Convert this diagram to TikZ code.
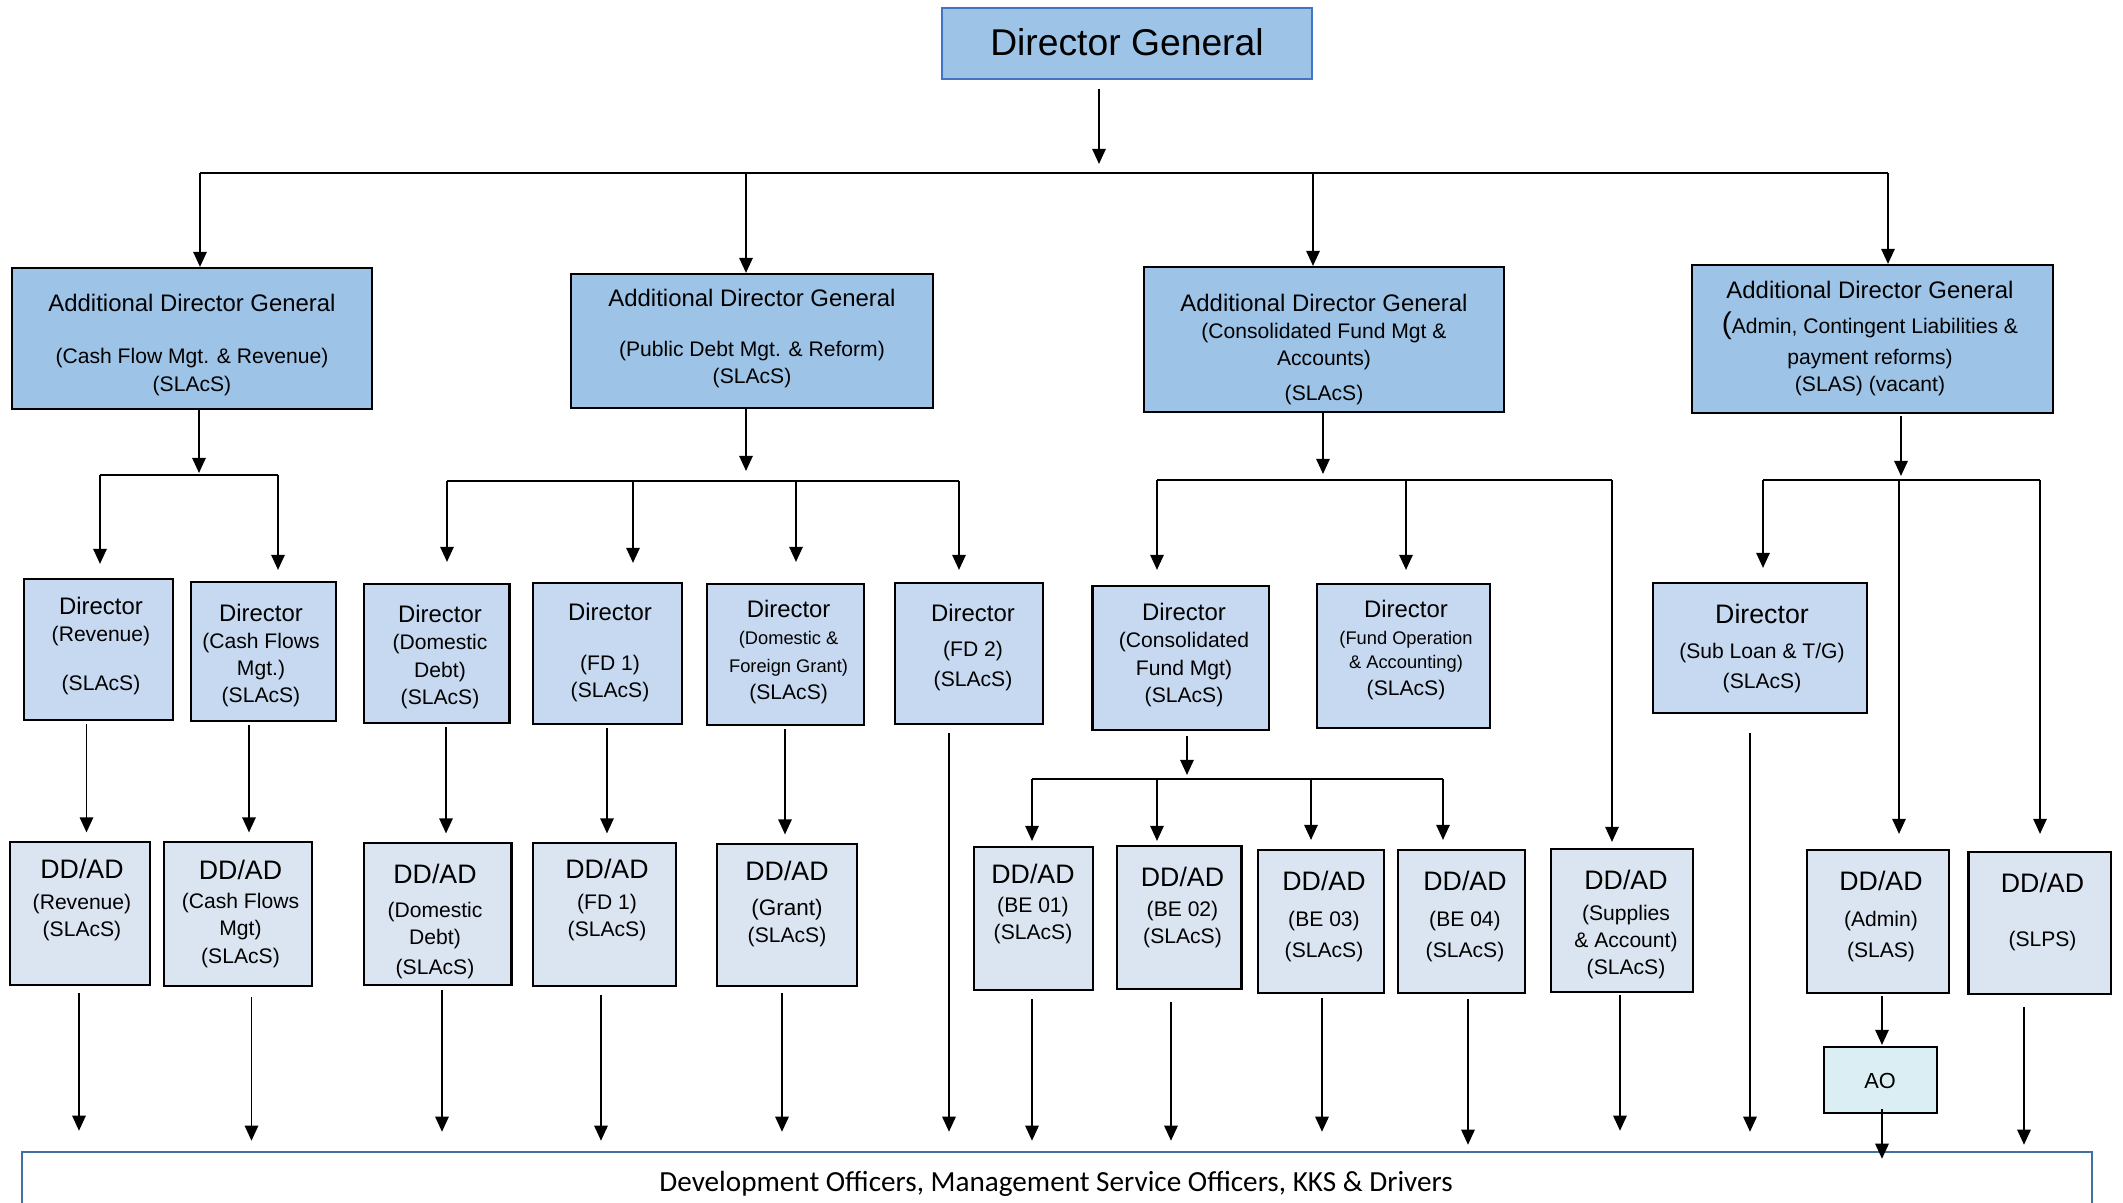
\documentclass[tikz,border=0pt]{standalone}
\usepackage{fontspec}
\setmainfont{Liberation Sans}
\newfontfamily\staffont{Carlito}
\usetikzlibrary{arrows.meta, fit}
\definecolor{adgblue}{RGB}{157,195,230}
\definecolor{dirblue}{RGB}{198,217,241}
\definecolor{ddblue}{RGB}{219,229,241}
\definecolor{aocyan}{RGB}{218,238,243}
\definecolor{dgline}{RGB}{68,114,196}
\definecolor{staffline}{RGB}{65,113,156}
\newcommand{\hdsz}{\fontsize{6.8}{7.7}\selectfont}
\newcommand{\ddsz}{\fontsize{7.6}{7.7}\selectfont}
\newcommand{\tnsz}{\fontsize{5.2}{7.7}\selectfont}
\tikzset{
  dgbox/.style={draw=dgline, fill=adgblue, line width=0.7pt, inner sep=0pt},
  adgbox/.style={draw, fill=adgblue, line width=0.6pt, inner sep=0pt},
  dirbox/.style={draw, fill=dirblue, line width=0.6pt, inner sep=0pt},
  ddbox/.style={draw, fill=ddblue, line width=0.6pt, inner sep=0pt},
  aobox/.style={draw, fill=aocyan, line width=0.6pt, inner sep=0pt},
  staffbox/.style={draw=staffline, line width=0.7pt, inner sep=0pt},
  txt/.style={align=center, inner sep=0pt, yshift=-0.025cm, font=\fontsize{6}{7.7}\selectfont},
  arr/.style={-{Triangle[length=4.3pt,width=3.8pt]}, line width=0.55pt},
  bus/.style={line width=0.55pt}
}
\begin{document}
\begin{tikzpicture}[x=0.01cm, y=-0.01cm]
\useasboundingbox (0,0) rectangle (2123,1203);
\clip (0,0) rectangle (2123,1203);

% Director General
\node[dgbox, fit={(942,8) (1312,79)}] (dg) {};
\node[txt, font=\fontsize{10.6}{12}\selectfont, anchor=base] (dg-t) at (1127,53) {Director General};

% Additional Directors General
\node[adgbox, fit={(12,268) (372,409)}] (adg1) {};
\node[txt] (adg1-t) at (192,342.5) {{\hdsz Additional Director General}\\[7.1pt](Cash Flow Mgt. \& Revenue)\\(SLAcS)};
\node[adgbox, fit={(571,274) (933,408)}] (adg2) {};
\node[txt] (adg2-t) at (752,336.5) {{\hdsz Additional Director General}\\[6.5pt](Public Debt Mgt. \& Reform)\\(SLAcS)};
\node[adgbox, fit={(1144,267) (1504,412)}] (adg3) {};
\node[txt] (adg3-t) at (1324,347) {{\hdsz Additional Director General}\\(Consolidated Fund Mgt \&\\Accounts)\\[2.3pt](SLAcS)};
\node[adgbox, fit={(1692,265) (2053,413)}] (adg4) {};
\node[txt] (adg4-t) at (1870,336) {{\hdsz Additional Director General}\\[2.3pt]{\fontsize{8.5}{7.7}\selectfont(}Admin, Contingent Liabilities \&\\[0.85pt]payment reforms)\\(SLAS) (vacant)};

% Directors
\node[dirbox, fit={(23.7,579) (172.8,720)}] (dir1) {};
\node[txt] (dir1-t) at (101,643.5) {{\hdsz Director}\\(Revenue)\\[6.3pt](SLAcS)};
\node[dirbox, fit={(191,582) (336,721)}] (dir2) {};
\node[txt] (dir2-t) at (261,653) {{\hdsz Director}\\(Cash Flows\\Mgt.)\\(SLAcS)};
\node[dirbox, fit={(364,584) (509.5,723)}] (dir3) {};
\node[txt] (dir3-t) at (440,654.5) {{\hdsz Director}\\(Domestic\\Debt)\\(SLAcS)};
\node[dirbox, fit={(533,583) (681.6,724)}] (dir4) {};
\node[txt] (dir4-t) at (610,650.5) {{\hdsz Director}\\[6.5pt](FD 1)\\(SLAcS)};
\node[dirbox, fit={(707,584) (864,725)}] (dir5) {};
\node[txt] (dir5-t) at (788.6,649.5) {{\hdsz Director}\\{\tnsz(Domestic \&}\\{\tnsz Foreign Grant)}\\(SLAcS)};
\node[dirbox, fit={(895,583) (1043,724)}] (dir6) {};
\node[txt] (dir6-t) at (973,645) {{\hdsz Director}\\[2pt](FD 2)\\[0.85pt](SLAcS)};
\node[dirbox, fit={(1092.5,586) (1268.6,730)}] (dir7) {};
\node[txt] (dir7-t) at (1184,652.5) {{\hdsz Director}\\(Consolidated\\Fund Mgt)\\(SLAcS)};
\node[dirbox, fit={(1316.7,584) (1490,728)}] (dir8) {};
\node[txt] (dir8-t) at (1406,647.5) {{\hdsz Director}\\{\tnsz(Fund Operation}\\[-1pt]{\tnsz\& Accounting)}\\(SLAcS)};
\node[dirbox, fit={(1652.8,583) (1867,713)}] (dir9) {};
\node[txt] (dir9-t) at (1762,646) {{\ddsz Director}\\[2pt](Sub Loan \& T/G)\\[0.85pt](SLAcS)};

% Deputy / Assistant Directors
\node[ddbox, fit={(10,842) (150,985)}] (dd1) {};
\node[txt] (dd1-t) at (82,897.5) {{\ddsz DD/AD}\\[1pt](Revenue)\\(SLAcS)};
\node[ddbox, fit={(164,842) (311.6,986)}] (dd2) {};
\node[txt] (dd2-t) at (240.5,911.5) {{\ddsz DD/AD}\\[0.6pt](Cash Flows\\Mgt)\\[0.3pt](SLAcS)};
\node[ddbox, fit={(364,843) (511.5,985)}] (dd3) {};
\node[txt] (dd3-t) at (435,919) {{\ddsz DD/AD}\\[1.8pt](Domestic\\Debt)\\[0.9pt](SLAcS)};
\node[ddbox, fit={(533,843) (676,986)}] (dd4) {};
\node[txt] (dd4-t) at (607,897.5) {{\ddsz DD/AD}\\[1pt](FD 1)\\(SLAcS)};
\node[ddbox, fit={(717,844) (857,986)}] (dd5) {};
\node[txt] (dd5-t) at (787,901.5) {{\ddsz DD/AD}\\[2.5pt]{\fontsize{6.4}{7.7}\selectfont(Grant)}\\(SLAcS)};
\node[ddbox, fit={(973.6,847) (1093,990)}] (dd6) {};
\node[txt] (dd6-t) at (1033,901.5) {{\ddsz DD/AD}\\[0.8pt](BE 01)\\(SLAcS)};
\node[ddbox, fit={(1117,846) (1241.5,989)}] (dd7) {};
\node[txt] (dd7-t) at (1182.5,905) {{\ddsz DD/AD}\\[0.8pt](BE 02)\\(SLAcS)};
\node[ddbox, fit={(1258,850) (1384,993)}] (dd8) {};
\node[txt] (dd8-t) at (1324,914) {{\ddsz DD/AD}\\[2.3pt](BE 03)\\[1.1pt](SLAcS)};
\node[ddbox, fit={(1398,850) (1524.7,993)}] (dd9) {};
\node[txt] (dd9-t) at (1465,914) {{\ddsz DD/AD}\\[2.3pt](BE 04)\\[1.1pt](SLAcS)};
\node[ddbox, fit={(1551,849) (1693,992)}] (dd10) {};
\node[txt] (dd10-t) at (1626,922) {{\ddsz DD/AD}\\[1.1pt](Supplies\\\& Account)\\(SLAcS)};
\node[ddbox, fit={(1806.6,850) (1949,993)}] (dd11) {};
\node[txt] (dd11-t) at (1881,914) {{\ddsz DD/AD}\\[2.3pt](Admin)\\[1.1pt](SLAS)};
\node[ddbox, fit={(1968.5,852) (2110.8,994)}] (dd12) {};
\node[txt] (dd12-t) at (2042.5,909.5) {{\ddsz DD/AD}\\[7.4pt](SLPS)};

% AO and staff
\node[aobox, fit={(1824,1047) (1936.7,1113)}] (ao) {};
\node[txt, font=\fontsize{6.2}{7.7}\selectfont] (ao-t) at (1880,1078) {AO};
\node[staffbox, fit={(22,1152) (2092,1240)}] (staff) {};
\node[txt, font=\staffont\fontsize{8.3}{10}\selectfont, anchor=base] (staff-t) at (1056,1189) {Development Officers, Management Service Officers, KKS \& Drivers};

% DG to ADGs
\coordinate (j0) at (1099,173);
\draw[arr, shorten <=0.09cm, shorten >=0.09cm] (j0 |- dg.south) -- (j0);
\coordinate (j1) at (200,173);
\coordinate (j2) at (746,173);
\coordinate (j3) at (1313,173);
\coordinate (j4) at (1888,173);
\draw[bus] (j1) -- (j4);
\foreach \j/\b in {j1/adg1, j2/adg2, j3/adg3, j4/adg4}
  \draw[arr] (\j) -- (\j |- \b.north);

% ADG 1 branch
\coordinate (a1) at (199,475);
\draw[arr, shorten >=0.02cm] (a1 |- adg1.south) -- (a1);
\coordinate (a1l) at (100,475);
\coordinate (a1r) at (278,475);
\draw[bus] (a1l) -- (a1r);
\draw[arr, shorten >=0.14cm] (a1l) -- (a1l |- dir1.north);
\draw[arr, shorten >=0.11cm] (a1r) -- (a1r |- dir2.north);

% ADG 2 branch
\coordinate (a2) at (746,481);
\draw[arr, shorten >=0.10cm] (a2 |- adg2.south) -- (a2);
\coordinate (a2a) at (447,481);
\coordinate (a2b) at (633,481);
\coordinate (a2c) at (796,481);
\coordinate (a2d) at (959,481);
\draw[bus] (a2a) -- (a2d);
\foreach \j/\b/\g in {a2a/dir3/0.21cm, a2b/dir4/0.19cm, a2c/dir5/0.21cm, a2d/dir6/0.12cm}
  \draw[arr, shorten >=\g] (\j) -- (\j |- \b.north);

% ADG 3 branch
\coordinate (a3) at (1323,480);
\draw[arr, shorten >=0.06cm] (a3 |- adg3.south) -- (a3);
\coordinate (a3a) at (1157,480);
\coordinate (a3b) at (1406,480);
\coordinate (a3c) at (1612,480);
\draw[bus] (a3a) -- (a3c);
\foreach \j/\b/\g in {a3a/dir7/0.15cm, a3b/dir8/0.13cm, a3c/dd10/0.06cm}
  \draw[arr, shorten >=\g] (\j) -- (\j |- \b.north);

% ADG 4 branch
\coordinate (a4) at (1901,480);
\draw[arr, shorten <=0.02cm, shorten >=0.04cm] (a4 |- adg4.south) -- (a4);
\coordinate (a4a) at (1763,480);
\coordinate (a4b) at (1899,480);
\coordinate (a4c) at (2040,480);
\draw[bus] (a4a) -- (a4c);
\foreach \j/\b/\g in {a4a/dir9/0.14cm, a4b/dd11/0.15cm, a4c/dd12/0.17cm}
  \draw[arr, shorten >=\g] (\j) -- (\j |- \b.north);

% Directors to DD/AD
\foreach \x/\a/\b in {86.5/dir1/dd1, 249/dir2/dd2, 446/dir3/dd3, 607/dir4/dd4, 785/dir5/dd5} {
  \coordinate (v) at (\x,0);
  \draw[arr, shorten <=0.03cm, shorten >=0.085cm] (v |- \a.south) -- (v |- \b.north);
}
\coordinate (c7) at (1187,779);
\draw[arr, shorten <=0.05cm, shorten >=0.04cm] (c7 |- dir7.south) -- (c7);
\coordinate (c7a) at (1032,779);
\coordinate (c7b) at (1157,779);
\coordinate (c7c) at (1311,779);
\coordinate (c7d) at (1443,779);
\draw[bus] (c7a) -- (c7d);
\foreach \j/\b/\g in {c7a/dd6/0.05cm, c7b/dd7/0.04cm, c7c/dd8/0.09cm, c7d/dd9/0.09cm}
  \draw[arr, shorten >=\g] (\j) -- (\j |- \b.north);

% Straight down to staff
\foreach \x/\a/\s/\e in {949/dir6/0.08cm/0.19cm, 1750/dir9/0.19cm/0.19cm,
    79/dd1/0.07cm/0.20cm, 251.5/dd2/0.10cm/0.10cm, 442/dd3/0.04cm/0.19cm,
    601/dd4/0.08cm/0.10cm, 782/dd5/0.06cm/0.19cm, 1032/dd6/0.08cm/0.10cm,
    1171/dd7/0.12cm/0.10cm, 1322/dd8/0.04cm/0.19cm, 1468/dd9/0.05cm/0.06cm,
    1620/dd10/0.02cm/0.20cm, 2024/dd12/0.12cm/0.06cm} {
  \coordinate (v) at (\x,0);
  \draw[arr, shorten <=\s, shorten >=\e] (v |- \a.south) -- (v |- staff.north);
}
\coordinate (ax) at (1882,0);
\draw[arr, shorten <=0.02cm, shorten >=0.01cm] (ax |- dd11.south) -- (ax |- ao.north);
\draw[arr, shorten <=-0.05cm, shorten >=-0.08cm] (ax |- ao.south) -- (ax |- staff.north);
\end{tikzpicture}
\end{document}
